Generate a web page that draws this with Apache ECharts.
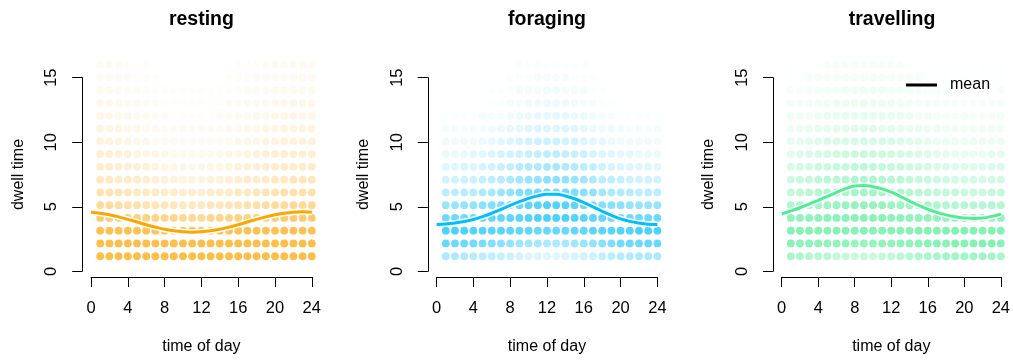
<!DOCTYPE html>
<html><head><meta charset="utf-8">
<script src="https://cdn.jsdelivr.net/npm/echarts@6/dist/echarts.min.js"></script>
<style>html,body{margin:0;padding:0;background:#fff}#c{width:1013px;height:360px}</style>
</head><body><div id="c"></div><script>
// ---------- data ----------
const panelTitles = ['resting', 'foraging', 'travelling'];
const lineColors = ['#FFA500', '#00BFFF', '#4EEE94'];
const hours = [1,2,3,4,5,6,7,8,9,10,11,12,13,14,15,16,17,18,19,20,21,22,23,24];
const dwellLevels = [16,15,14,13,12,11,10,9,8,7,6,5,4,3,2,1];
const curveHours = [0,1,2,3,4,5,6,7,8,9,10,11,12,13,14,15,16,17,18,19,20,21,22,23,24];
const xTicks = [0,4,8,12,16,20,24];
const yTicks = [0,5,10,15];

const restingMean    = [4.45,4.37,4.25,4.08,3.89,3.68,3.47,3.28,3.11,2.99,2.91,2.88,2.91,2.99,3.11,3.28,3.47,3.68,3.89,4.08,4.25,4.37,4.45,4.48,4.45];
const foragingMean   = [3.48,3.52,3.60,3.72,3.88,4.10,4.37,4.67,4.98,5.27,5.53,5.73,5.85,5.85,5.72,5.50,5.20,4.87,4.52,4.20,3.93,3.73,3.60,3.51,3.48];
const travellingMean = [4.31,4.55,4.80,5.08,5.38,5.68,6.00,6.30,6.50,6.54,6.45,6.28,6.02,5.68,5.32,4.98,4.68,4.44,4.24,4.09,4.00,3.96,3.99,4.12,4.31];

// dot opacity levels (base-36 digit per hour, rows = dwell time 16 .. 1)
const restingLevels = [
  "222111000000000111222222",
  "222211100000001112222232",
  "332221111111111122233333",
  "443332211111112233344444",
  "544433221111122334445555",
  "655443322222223344556666",
  "766554332222233455667777",
  "988765543333345567889999",
  "aa98876554445567889abbbb",
  "ccbaa98776667789aabccddd",
  "ffedccbaa999aabccdefgggg",
  "jjihgfeddcccddefghijjkkk",
  "rrqpoonmmlllmmnoopqrssss",
  "xxxxxwwwwwwwwwwwxxxxxxxx",
  "zzzzzzzzzzzzzzzzzzzzzzzz",
  "zzzzzzzzzzzzzzzzzzzzzzzz"
];
const foragingLevels = [
  "000000001111111100000000",
  "000000011122221110000000",
  "000001112223322211000000",
  "000001122334433221100000",
  "111122234455554432211111",
  "222223455677776543322222",
  "3333456789aaa99765433333",
  "44456789abcddcba87655444",
  "667789bcefghhgfdca877666",
  "99aabdegiklmmlkigdcba999",
  "ddeeghjloprssrpnligfeddd",
  "kkllmoprtvwxxwvtronmlkkk",
  "sssttuuvwxyyyyxwvuttssss",
  "yyyxxwwvuuttttuuvwwxxyyy",
  "tssrqomljihgghiklnprsstt",
  "ggfedcba87766789acdefggg"
];
const travellingLevels = [
  "111122222222211111110111",
  "112223333333222111111111",
  "222333444443332222111112",
  "333445556555443322222222",
  "444566777776654433332333",
  "556778899988766554444444",
  "7789abbcccbba98766555556",
  "89abcdefffedcba987666677",
  "bcdefghiiihgfedcba9999aa",
  "efgijklmmmlkjhgfedccccdd",
  "hijkmnoppponmkjihggfffgg",
  "mnoprstuuutsrponmlkkkkll",
  "uuvvwwxxxxxwwvvuuttttttu",
  "yyyxxxxxxxxxxxyyyyyyyyyy",
  "xwwvvuutttuuvvwxxxyyyyyx",
  "nmlkjhgfffghjkmnoppqqqpo"
];

// ---------- layout ----------
const FONT = 'Liberation Sans, Arial, Helvetica, sans-serif';
const ALPHA_STEP = 0.0206;
const panelLeft = [91, 436.6, 781.7];
const plotW = 220.8;
const y0 = 271.3, yUnit = 12.91;

const means = [restingMean, foragingMean, travellingMean];
const levels = [restingLevels, foragingLevels, travellingLevels];

const grids = [], xAxes = [], yAxes = [], series = [], titles = [];
for (let p = 0; p < 3; p++) {
  const L = panelLeft[p];
  grids.push({left: L, width: plotW, top: y0 - 16 * yUnit, height: 16 * yUnit});
  grids.push({left: L, width: plotW, top: y0 - 15 * yUnit, height: 15 * yUnit});
  const gA = 2 * p, gB = 2 * p + 1;
  xAxes.push({
    gridIndex: gA, type: 'value', min: 0, max: 24, interval: 4, offset: 8,
    axisLine: {show: true, onZero: false, lineStyle: {color: '#000', width: 1}},
    axisTick: {show: true, length: 10, inside: false, lineStyle: {color: '#000', width: 1}},
    axisLabel: {show: true, margin: 23, fontSize: 16.5, color: '#000', fontFamily: FONT,
      formatter: v => (xTicks.indexOf(v) >= 0 ? String(v) : '')},
    splitLine: {show: false},
    name: 'time of day', nameLocation: 'middle', nameGap: 62,
    nameTextStyle: {fontSize: 16, color: '#000', fontFamily: FONT}
  });
  yAxes.push({gridIndex: gA, type: 'value', min: 0, max: 16, show: false});
  xAxes.push({gridIndex: gB, type: 'value', min: 0, max: 24, show: false});
  yAxes.push({
    gridIndex: gB, type: 'value', min: 0, max: 15, interval: 5, offset: 8.8,
    axisLine: {show: true, onZero: false, lineStyle: {color: '#000', width: 1}},
    axisTick: {show: true, length: 10, inside: false, lineStyle: {color: '#000', width: 1}},
    axisLabel: {show: true, rotate: 90, margin: 22, fontSize: 16.5, color: '#000', fontFamily: FONT,
      formatter: v => (yTicks.indexOf(v) >= 0 ? String(v) : '')},
    splitLine: {show: false},
    name: 'dwell time', nameLocation: 'middle', nameRotate: 90, nameGap: 56,
    nameTextStyle: {fontSize: 16, color: '#000', fontFamily: FONT}
  });

  const dots = [];
  levels[p].forEach((row, i) => {
    const dwell = dwellLevels[i];
    hours.forEach((h, j) => {
      const a = parseInt(row[j] || '0', 36) * ALPHA_STEP;
      if (a > 0) dots.push({value: [h, dwell], itemStyle: {opacity: a}});
    });
  });
  series.push({
    type: 'scatter', xAxisIndex: gA, yAxisIndex: gA, data: dots, symbol: 'circle',
    symbolSize: 7.8, itemStyle: {color: lineColors[p]}, silent: true, clip: false,
    progressive: 0, z: 2
  });
  const curve = curveHours.map((h, i) => [h, means[p][i]]);
  series.push({
    type: 'line', xAxisIndex: gA, yAxisIndex: gA, data: curve, smooth: 0.4,
    symbol: 'none', silent: true, lineStyle: {color: '#ffffff', width: 6}, z: 3
  });
  series.push({
    type: 'line', xAxisIndex: gA, yAxisIndex: gA, data: curve, smooth: 0.4,
    symbol: 'none', silent: true, lineStyle: {color: lineColors[p], width: 3}, z: 4
  });
  series.push({type: 'scatter', xAxisIndex: gB, yAxisIndex: gB, data: []});

  titles.push({
    text: panelTitles[p], left: L + plotW / 2, top: 10, textAlign: 'center', padding: 0,
    textStyle: {fontSize: 19.5, fontWeight: 'bold', color: '#000', fontFamily: FONT}
  });
}
series.push({type: 'line', name: 'mean', xAxisIndex: 4, yAxisIndex: 4, data: [],
  lineStyle: {color: '#000', width: 3}, itemStyle: {color: '#000'}});

const chart = echarts.init(document.getElementById('c'), null, {renderer: 'canvas'});
chart.setOption({
  animation: false,
  backgroundColor: '#ffffff',
  title: titles,
  grid: grids,
  xAxis: xAxes,
  yAxis: yAxes,
  legend: {
    left: 906, top: 77, padding: 0, itemWidth: 31, itemHeight: 3, icon: 'rect',
    selectedMode: false,
    data: [{name: 'mean', icon: 'rect', itemStyle: {color: '#000'}}],
    textStyle: {fontSize: 16, color: '#000', fontFamily: FONT, padding: [0, 0, 0, 8]}
  },
  series: series
});
</script></body></html>
